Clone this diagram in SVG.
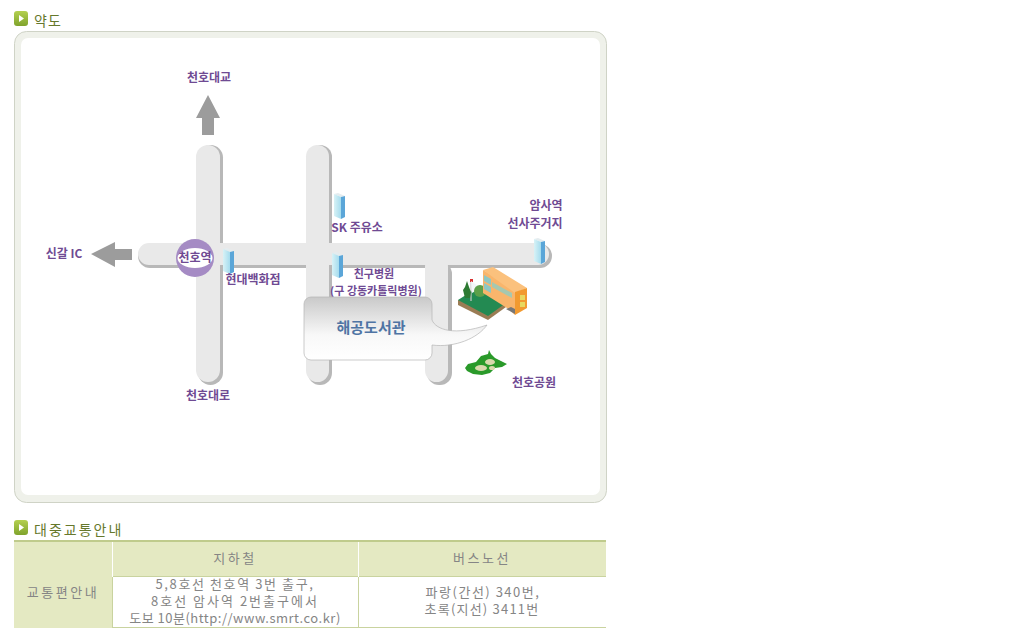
<svg xmlns="http://www.w3.org/2000/svg" width="1024" height="628" viewBox="0 0 1024 628">
<style>
text{font-family:"Noto Sans CJK KR","Liberation Sans",sans-serif}
.h{font-size:14px;fill:#66782c}
.p{font-size:12px;font-weight:700;fill:#6f4a93;text-anchor:middle}
.m{font-size:11px}
.t{font-size:13px;fill:#858585;text-anchor:middle}
.sh{fill:#b8b8b8}.rd{fill:#e9e9e9}
.ar{fill:#9c9c9c}
.bw{fill:url(#glass)}.bs{fill:#5ba6d8}.bt{fill:#e4ecef}
.lf{fill:#2a9a2a}.pt{fill:#d9d9ad}
</style>
<defs>
<linearGradient id="bub" x1="0" y1="0" x2="0" y2="1"><stop offset="0" stop-color="#c9c9c9"/><stop offset=".6" stop-color="#f8f8f8"/><stop offset="1" stop-color="#fff"/></linearGradient>
<linearGradient id="ico" x1="0" y1="0" x2="0" y2="1"><stop offset="0" stop-color="#b4d050"/><stop offset="1" stop-color="#7fa32c"/></linearGradient>
<linearGradient id="glass" x1="0" y1="0" x2="1" y2="0"><stop offset="0" stop-color="#d8f2f6"/><stop offset="1" stop-color="#a5dcee"/></linearGradient>
<g id="bld"><path class="bt" d="M0 1l4-1 7 3-4 1z"/><path class="bw" d="M0 1l7 3v22l-7-3z"/><path class="bs" d="M7 4l4-1v21l-4 2z"/></g>
<g id="hicon"><rect x="0" y="0" width="14" height="15" rx="3" fill="url(#ico)"/><path d="M5 4l5 3.500-5 3.500z" fill="#fff"/></g>
</defs>

<use href="#hicon" x="14" y="11"/>
<text class="h" x="34" y="26" letter-spacing="1">약도</text>
<rect x="14.500" y="31.500" width="592" height="471" rx="12" fill="#eff1ea" stroke="#cfd3c6"/>
<rect x="21" y="38" width="579" height="457" rx="7" fill="#fff"/>

<g id="connectors">
<g class="sh">
<rect x="198" y="145" width="25" height="240" rx="12.500"/>
<rect x="308" y="145" width="24" height="240" rx="12"/>
<rect x="427" y="262" width="25" height="123" rx="12"/>
<rect x="138" y="244" width="414" height="24" rx="12"/>
</g>
<g class="rd">
<rect x="196" y="145" width="24" height="237" rx="12"/>
<rect x="306" y="145" width="23" height="237" rx="11.500"/>
<rect x="425" y="255" width="23" height="127" rx="11.500"/>
<rect x="138" y="243" width="411" height="22" rx="11"/>
</g>
<path class="ar" d="M208 95l12 23h-6v17h-12v-17h-6z"/>
<path class="ar" d="M91 254l24-12v7h17v11h-17v7z"/>
</g>

<g id="station-cheonho">
<circle cx="195" cy="258" r="19" fill="#a58bc4"/>
<ellipse cx="195" cy="258" rx="17.500" ry="10" fill="#fff"/>
<text class="p" x="195" y="262">천호역</text>
</g>
<g id="label-bridge"><text class="p" x="209" y="82">천호대교</text></g>
<g id="label-ic"><text class="p" x="64" y="258">신갈 IC</text></g>
<g id="label-daero"><text class="p" x="208" y="400">천호대로</text></g>
<g id="hyundai"><use href="#bld" x="223" y="248"/><text class="p" x="253" y="284">현대백화점</text></g>
<g id="sk"><use href="#bld" x="334" y="193"/><text class="p" x="357" y="232">SK 주유소</text></g>
<g id="hospital"><use href="#bld" x="332" y="252"/><text class="p m" x="374" y="278">친구병원</text><text class="p m" x="376" y="295">(구 강동카톨릭병원)</text></g>
<g id="amsa"><use href="#bld" x="534" y="238"/><text class="p" x="546" y="210">암사역</text><text class="p" x="535" y="228">선사주거지</text></g>

<g id="library-bubble">
<path d="M311 297h114a7 7 0 0 1 7 7v16C436 330 455 336 487 325C478 338 455 348 432 345v8a7 7 0 0 1-7 7H311a7 7 0 0 1-7-7v-49a7 7 0 0 1 7-7z" fill="url(#bub)" stroke="#b4b4b4" stroke-width=".7"/>
<text x="371" y="333" text-anchor="middle" font-size="15" font-weight="700" fill="#4f74a4">해공도서관</text>
</g>

<g id="library-building">
<path d="M458 300v5l30 15 18-13v-4z" fill="#9a7c54"/>
<path d="M458 300l19-12 29 15-18 13z" fill="#238a52"/>
<path d="M471 280v21" stroke="#c8c8c8" stroke-width="1.200"/>
<rect x="470" y="279" width="3" height="3" fill="#d83030"/>
<path d="M471 281l10 7-9 5z" fill="#f3f6f8"/>
<path d="M465 298l-2-8 2-3 2-6 2 6 2 5-1 6z" fill="#2c7a32"/>
<ellipse cx="480" cy="291" rx="6" ry="6" fill="#5da04a"/>
<path d="M483 270l32 18v27l-8-7-24-15z" fill="#f9b56c"/>
<path d="M484 275l7 4v6l-7-4zM484 283l7 4v6l-7-4z" fill="#8ec7c4"/>
<path d="M492 282l20 11v5l-20-11z" fill="#a6c8b0"/>
<path d="M483 270l10-3 34 21-12 5z" fill="#fbc17d"/>
<path d="M515 292l12-4v20l-12 7z" fill="#f29a30"/>
<path d="M520 295h5v5h-5zM520 302h5v5h-5z" fill="#e8d860"/>
<path d="M506 309l5-2 4 2v5z" fill="#777"/>
</g>
<g id="park">
<path d="M465 368l3-4 8-2 5-6 7-2 1-4 2 4 4 4 6 3 6 3-5 3-7 1-5 5-8 2-9-1-6-3z" class="lf"/>
<ellipse class="pt" cx="481" cy="368" rx="6" ry="3"/><ellipse class="pt" cx="490" cy="362" rx="5" ry="3"/><ellipse class="pt" cx="492" cy="368" rx="3" ry="2"/>
<text class="p" x="534" y="387">천호공원</text>
</g>

<use href="#hicon" x="14" y="520"/>
<text class="h" x="34" y="535" letter-spacing="2">대중교통안내</text>
<g id="table">
<rect x="14" y="542" width="592" height="35" fill="#e4e9c2"/>
<rect x="14" y="577" width="98" height="51" fill="#e4e9c2"/>
<rect x="14" y="540" width="592" height="2" fill="#bfcb8c"/>
<path d="M112 576.500H606M112 627.500H606" stroke="#c9d39f" fill="none"/>
<path d="M112.500 577V628M358.500 577V628" stroke="#c9d39f" fill="none"/>
<path d="M112.500 542V577M358.500 542V577" stroke="#fff" fill="none"/>
<text class="t" x="235" y="563" letter-spacing="2.500">지하철</text>
<text class="t" x="482" y="563" letter-spacing="2.500">버스노선</text>
<text class="t" x="63" y="597" letter-spacing="2.500">교통편안내</text>
<text class="t" x="235" y="589" letter-spacing="1.600">5,8호선 천호역 3번 출구,</text>
<text class="t" x="235" y="606" letter-spacing="2">8호선 암사역 2번출구에서</text>
<text class="t" x="235" y="623" letter-spacing=".5">도보 10분(http://www.smrt.co.kr)</text>
<text class="t" x="483" y="597" letter-spacing="1.500">파랑(간선) 340번,</text>
<text class="t" x="482" y="614" letter-spacing="1.200">초록(지선) 3411번</text>
</g>
</svg>
